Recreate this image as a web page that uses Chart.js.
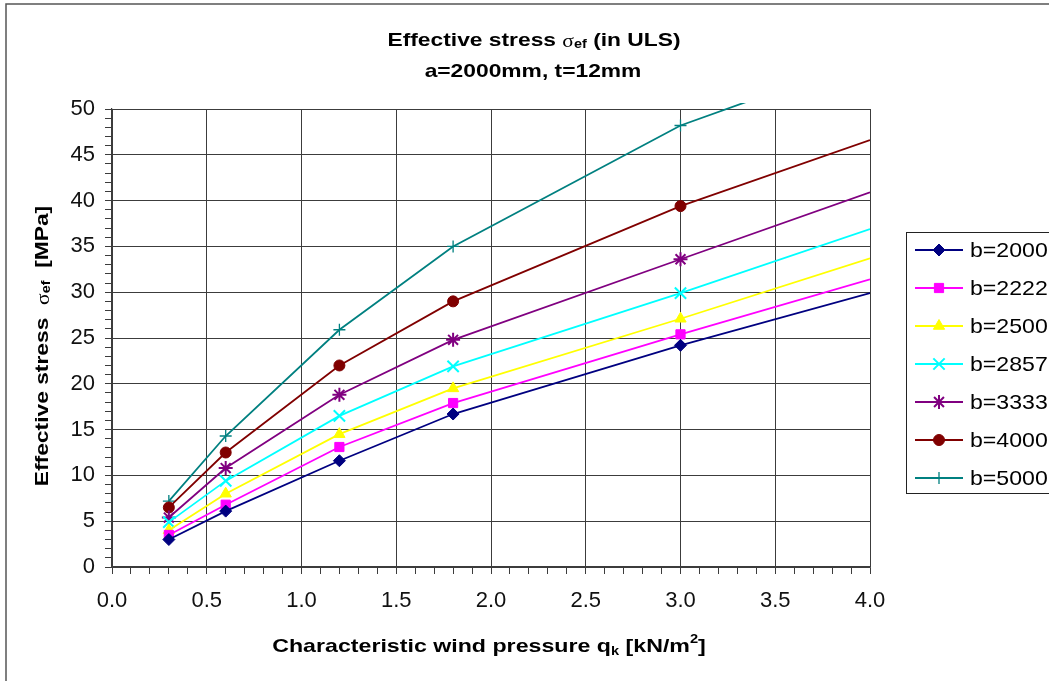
<!DOCTYPE html>
<html lang="en">
<head>
  <meta charset="UTF-8" />
  <title>Effective stress (in ULS)</title>
  <script src="https://cdn.jsdelivr.net/npm/chart.js@4.4.0/dist/chart.umd.min.js"></script>
  <style>
    html, body { margin: 0; padding: 0; background: #fff; }
    #wrap { position: relative; width: 1049px; height: 681px; }
  </style>
</head>
<body>
  <div id="wrap"><canvas id="chart"></canvas></div>
  <script>
    // wind pressure q_k [kN/m2]
    const pressures = [0.3, 0.6, 1.2, 1.8, 3.0, 4.0];
    const labels = ['b=2000', 'b=2222', 'b=2500', 'b=2857', 'b=3333', 'b=4000', 'b=5000'];

    // effective stress [MPa]
    const b2000 = [3.0, 6.1, 11.6, 16.7, 24.2, 29.9];
    const b2222 = [3.5, 6.8, 13.1, 17.9, 25.4, 31.4];
    const b2500 = [4.0, 8.0, 14.5, 19.5, 27.1, 33.7];
    const b2857 = [4.9, 9.4, 16.5, 21.9, 29.9, 36.9];
    const b3333 = [5.4, 10.8, 18.8, 24.8, 33.6, 40.9];
    const b4000 = [6.5, 12.5, 22.0, 29.0, 39.4, 46.6];
    const b5000 = [7.2, 14.3, 25.9, 35.0, 48.2, 55.6];

    const xTicks = ['0.0', '0.5', '1.0', '1.5', '2.0', '2.5', '3.0', '3.5', '4.0'];
    const yTicks = ['0', '5', '10', '15', '20', '25', '30', '35', '40', '45', '50'];

    const series = [b2000, b2222, b2500, b2857, b3333, b4000, b5000];
    const colors = ['#000080', '#ff00ff', '#ffff00', '#00ffff', '#800080', '#800000', '#008080'];
    const styles = ['rectRot', 'rect', 'triangle', 'crossRot', 'star', 'circle', 'cross'];
    const radii = [6, 6.5, 6.5, 8, 7, 5.5, 6];
    const markerLines = [1, 1, 1, 2, 2, 1, 1.3];

    const FONT = '"Liberation Sans", Arial, sans-serif';
    const GRID = '#3c3c3c';

    const datasets = series.map((vals, i) => ({
      label: labels[i],
      data: vals.map((v, j) => ({ x: pressures[j], y: v })),
      borderColor: colors[i],
      backgroundColor: colors[i],
      borderWidth: 1.8,
      pointStyle: styles[i],
      pointRadius: vals.map((v, j) => (j === vals.length - 1 ? 0 : radii[i])),
      pointBorderWidth: markerLines[i],
      pointBackgroundColor: colors[i],
      pointBorderColor: colors[i],
      tension: 0,
      // excel lets the top curve run a few px past the plot frame
      clip: { left: 0, top: 6, right: 0, bottom: 0 }
    }));

    // draws a run of text pieces (sub/superscripts), centred on cx, stretched by sx
    function drawRuns(ctx, runs, cx, cy, sx) {
      let total = 0;
      runs.forEach(r => { ctx.font = r.font; total += ctx.measureText(r.t).width; });
      ctx.save();
      ctx.translate(cx, cy);
      ctx.scale(sx || 1, 1);
      let x = -total / 2;
      ctx.textBaseline = 'middle';
      ctx.textAlign = 'left';
      runs.forEach(r => {
        ctx.font = r.font;
        ctx.fillText(r.t, x, r.dy || 0);
        x += ctx.measureText(r.t).width;
      });
      ctx.restore();
    }

    const B19 = 'bold 19px ' + FONT;
    const B12 = 'bold 12px ' + FONT;
    const SIG = '18px "Liberation Serif", serif';

    const decor = {
      id: 'decor',
      beforeDraw(chart) {
        const ctx = chart.ctx;
        ctx.save();
        ctx.fillStyle = '#fff';
        ctx.fillRect(0, 0, chart.width, chart.height);
        ctx.strokeStyle = '#555';
        ctx.lineWidth = 1.5;
        ctx.strokeRect(6, 4, chart.width + 20, chart.height + 20);
        ctx.restore();
      },
      afterDraw(chart) {
        const ctx = chart.ctx;
        ctx.save();
        ctx.fillStyle = '#000';

        // title
        drawRuns(ctx, [
          { t: 'Effective stress ', font: B19 },
          { t: 'σ', font: SIG, dy: 1 },
          { t: 'ef', font: B12, dy: 4 },
          { t: ' (in ULS)', font: B19 }
        ], 534, 41, 1.2);
        drawRuns(ctx, [{ t: 'a=2000mm, t=12mm', font: B19 }], 533, 72, 1.2);

        // x axis title
        drawRuns(ctx, [
          { t: 'Characteristic wind pressure q', font: B19 },
          { t: 'k', font: B12, dy: 5 },
          { t: ' [kN/m', font: B19 },
          { t: '2', font: B12, dy: -7 },
          { t: ']', font: B19 }
        ], 489, 647, 1.22);

        // y axis title
        ctx.save();
        ctx.translate(43, 346);
        ctx.rotate(-Math.PI / 2);
        drawRuns(ctx, [
          { t: 'Effective stress  ', font: B19 },
          { t: 'σ', font: SIG, dy: 1 },
          { t: 'ef', font: B12, dy: 4 },
          { t: '  [MPa]', font: B19 }
        ], 0, 0, 1.2);
        ctx.restore();

        // legend
        ctx.strokeStyle = '#222';
        ctx.lineWidth = 1;
        ctx.strokeRect(906.5, 232.5, 160, 261);
        labels.forEach((lab, i) => {
          const y = 250 + i * 38;
          ctx.strokeStyle = colors[i];
          ctx.lineWidth = 1.8;
          ctx.beginPath();
          ctx.moveTo(915, y);
          ctx.lineTo(963, y);
          ctx.stroke();
          ctx.fillStyle = colors[i];
          ctx.lineWidth = markerLines[i];
          Chart.helpers.drawPoint(ctx, { pointStyle: styles[i], radius: radii[i], rotation: 0, borderWidth: markerLines[i] }, 939, y);
          ctx.fillStyle = '#000';
          ctx.save();
          ctx.translate(970, y + 1);
          ctx.scale(1.1, 1);
          ctx.font = '21px ' + FONT;
          ctx.textAlign = 'left';
          ctx.textBaseline = 'middle';
          ctx.fillText(lab, 0, 0);
          ctx.restore();
        });
        ctx.restore();
      }
    };

    function isMultiple(v, step) {
      return Math.abs(v / step - Math.round(v / step)) < 1e-6;
    }

    new Chart(document.getElementById('chart'), {
      type: 'line',
      data: { datasets },
      options: {
        responsive: true,
        maintainAspectRatio: false,
        animation: false,
        layout: { padding: { left: 0, top: 109, right: 179, bottom: 0 } },
        plugins: {
          legend: { display: false },
          title: { display: false },
          tooltip: { enabled: false }
        },
        scales: {
          x: {
            type: 'linear',
            min: 0,
            max: 4,
            afterFit(scale) { scale.height = 114; },
            ticks: {
              stepSize: 0.1,
              autoSkip: false,
              maxRotation: 0,
              padding: 14,
              color: '#111',
              font: { family: FONT, size: 22 },
              callback: v => (isMultiple(v, 0.5) ? xTicks[Math.round(v / 0.5)] : '')
            },
            grid: {
              color: c => (c.tick && isMultiple(c.tick.value, 0.5) ? GRID : 'rgba(0,0,0,0)'),
              tickColor: GRID,
              tickLength: 7,
              lineWidth: 1
            },
            border: { display: true, color: GRID, width: 1.2 }
          },
          y: {
            min: 0,
            max: 50,
            afterFit(scale) { scale.width = 112; },
            ticks: {
              stepSize: 1,
              autoSkip: false,
              padding: 10,
              color: '#111',
              font: { family: FONT, size: 22 },
              callback: v => (isMultiple(v, 5) ? yTicks[Math.round(v / 5)] : '')
            },
            grid: {
              color: c => (c.tick && isMultiple(c.tick.value, 5) ? GRID : 'rgba(0,0,0,0)'),
              tickColor: GRID,
              tickLength: 7,
              lineWidth: 1
            },
            border: { display: true, color: GRID, width: 1.2 }
          }
        }
      },
      plugins: [decor]
    });
  </script>
</body>
</html>
